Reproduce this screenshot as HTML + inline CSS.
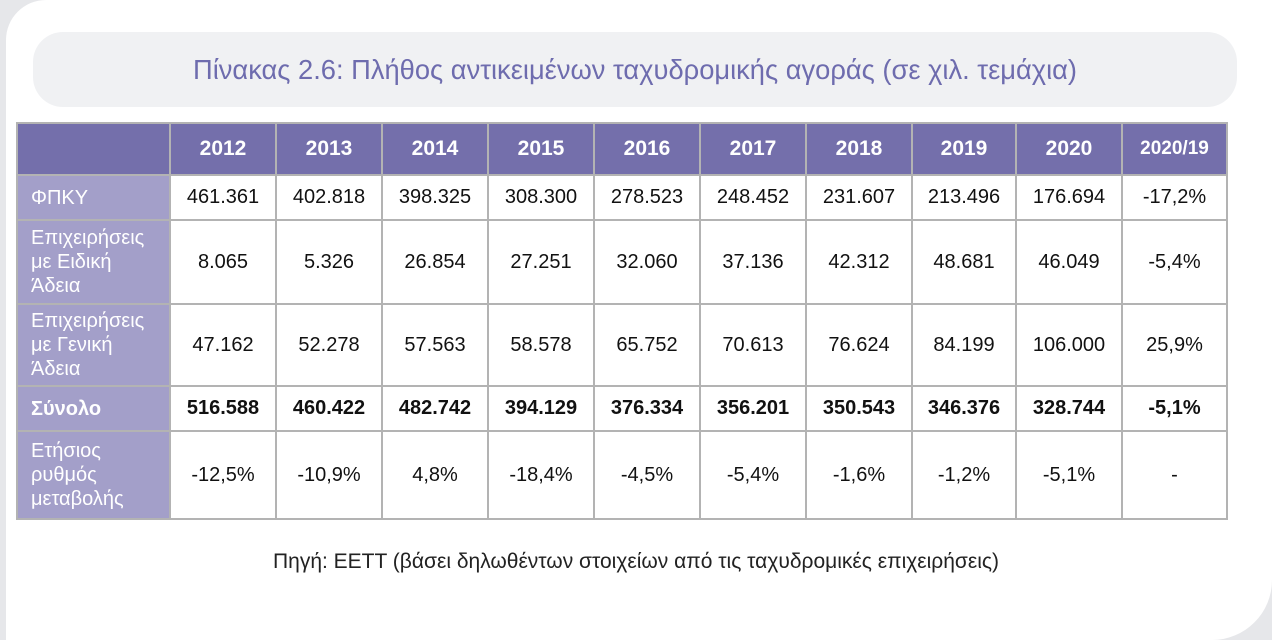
<!DOCTYPE html>
<html><head><meta charset="utf-8"><style>
body{margin:0;width:1272px;height:610px;background:#e6e7ea;overflow:hidden;font-family:"Liberation Sans","DejaVu Sans",sans-serif;}
.panel{position:absolute;left:6px;top:0;width:1266px;height:640px;background:#fff;border-radius:40px 0 60px 0;}
.tbox{position:absolute;left:33px;top:32px;width:1204px;height:75px;background:#f0f1f3;border-radius:30px;text-align:center;line-height:75px;color:#6e6cae;font-size:27.3px;}
table{position:absolute;left:16px;top:122px;border-collapse:collapse;}
td{border:2px solid #b3b3b3;text-align:center;font-size:20px;color:#111;padding:0;}
tr.h td{background:#746fab;color:#fff;font-weight:bold;font-size:21px;}
td.f{background:#a39fc9;color:#fff;text-align:left;padding-left:13px;font-size:20px;line-height:24px;}
tr.b td{font-weight:bold;}
.src{position:absolute;top:550px;left:0;width:1272px;text-align:center;font-size:21px;color:#222;}
</style></head><body>
<div class="panel"></div>
<div class="tbox">Πίνακας 2.6: Πλήθος αντικειμένων ταχυδρομικής αγοράς (σε χιλ. τεμάχια)</div>
<table>
<colgroup><col style="width:153px"><col style="width:106px"><col style="width:106px"><col style="width:106px"><col style="width:106px"><col style="width:106px"><col style="width:106px"><col style="width:106px"><col style="width:104px"><col style="width:106px"><col style="width:105px"></colgroup>
<tr class="h" style="height:52px"><td></td><td>2012</td><td>2013</td><td>2014</td><td>2015</td><td>2016</td><td>2017</td><td>2018</td><td>2019</td><td>2020</td><td style="font-size:19px">2020/19</td></tr>
<tr style="height:45px"><td class="f">ΦΠΚΥ</td><td>461.361</td><td>402.818</td><td>398.325</td><td>308.300</td><td>278.523</td><td>248.452</td><td>231.607</td><td>213.496</td><td>176.694</td><td>-17,2%</td></tr>
<tr style="height:84px"><td class="f">Επιχειρήσεις<br>με Ειδική<br>Άδεια</td><td>8.065</td><td>5.326</td><td>26.854</td><td>27.251</td><td>32.060</td><td>37.136</td><td>42.312</td><td>48.681</td><td>46.049</td><td>-5,4%</td></tr>
<tr style="height:82px"><td class="f">Επιχειρήσεις<br>με Γενική<br>Άδεια</td><td>47.162</td><td>52.278</td><td>57.563</td><td>58.578</td><td>65.752</td><td>70.613</td><td>76.624</td><td>84.199</td><td>106.000</td><td>25,9%</td></tr>
<tr class="b" style="height:45px"><td class="f">Σύνολο</td><td>516.588</td><td>460.422</td><td>482.742</td><td>394.129</td><td>376.334</td><td>356.201</td><td>350.543</td><td>346.376</td><td>328.744</td><td>-5,1%</td></tr>
<tr style="height:88px"><td class="f">Ετήσιος<br>ρυθμός<br>μεταβολής</td><td>-12,5%</td><td>-10,9%</td><td>4,8%</td><td>-18,4%</td><td>-4,5%</td><td>-5,4%</td><td>-1,6%</td><td>-1,2%</td><td>-5,1%</td><td>-</td></tr>
</table>
<div class="src">Πηγή: ΕΕΤΤ (βάσει δηλωθέντων στοιχείων από τις ταχυδρομικές επιχειρήσεις)</div>
</body></html>
